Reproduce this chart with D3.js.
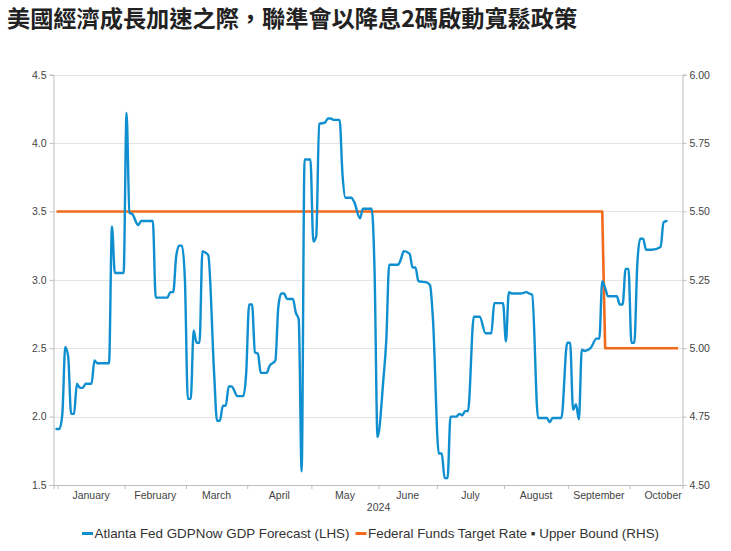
<!DOCTYPE html>
<html>
<head>
<meta charset="utf-8">
<script src="https://cdn.jsdelivr.net/npm/d3@7"></script>
<style>
  html, body { margin: 0; padding: 0; background: #fff; }
  svg { display: block; }
</style>
</head>
<body>
<svg id="chart" width="731" height="551"></svg>
<script>
// ---------------- DATA ----------------
const titleText = "美國經濟成長加速之際，聯準會以降息2碼啟動寬鬆政策";
const months = ["January","February","March","April","May","June","July","August","September","October"];
const monthStarts = ["2024-01-01","2024-02-01","2024-03-01","2024-04-01","2024-05-01","2024-06-01","2024-07-01","2024-08-01","2024-09-01","2024-10-01","2024-11-01"];
const yearLabel = "2024";
const leftTicks = [1.5, 2.0, 2.5, 3.0, 3.5, 4.0, 4.5];
const rightTicks = [4.50, 4.75, 5.00, 5.25, 5.50, 5.75, 6.00];

// Atlanta Fed GDPNow GDP Forecast (LHS), %
const gdpDates = [
  "2024-01-01","2024-01-02","2024-01-03","2024-01-04","2024-01-05","2024-01-08","2024-01-09","2024-01-10","2024-01-11","2024-01-12",
  "2024-01-15","2024-01-17","2024-01-18","2024-01-19","2024-01-25","2024-01-26","2024-01-29","2024-02-01","2024-02-02","2024-02-05",
  "2024-02-06","2024-02-08","2024-02-09","2024-02-15","2024-02-16","2024-02-22","2024-02-23","2024-02-26","2024-02-27","2024-02-28",
  "2024-02-29","2024-03-01","2024-03-04","2024-03-05","2024-03-06","2024-03-07","2024-03-08","2024-03-11","2024-03-12","2024-03-13",
  "2024-03-15","2024-03-18","2024-03-19","2024-03-20","2024-03-21","2024-03-22","2024-03-25","2024-03-27","2024-03-29","2024-04-01",
  "2024-04-02","2024-04-03","2024-04-04","2024-04-05","2024-04-08","2024-04-10","2024-04-11","2024-04-15","2024-04-16","2024-04-17",
  "2024-04-18","2024-04-19","2024-04-23","2024-04-24","2024-04-25","2024-04-26","2024-04-29","2024-05-01","2024-05-02","2024-05-03",
  "2024-05-06","2024-05-08","2024-05-09","2024-05-10","2024-05-13","2024-05-15","2024-05-16","2024-05-17","2024-05-21","2024-05-22",
  "2024-05-24","2024-05-27","2024-05-30","2024-05-31","2024-06-03","2024-06-05","2024-06-06","2024-06-07","2024-06-12","2024-06-13",
  "2024-06-14","2024-06-18","2024-06-19","2024-06-20","2024-06-21","2024-06-26","2024-06-27","2024-06-28","2024-07-02","2024-07-03",
  "2024-07-04","2024-07-05","2024-07-08","2024-07-10","2024-07-11","2024-07-12","2024-07-15","2024-07-16","2024-07-18","2024-07-22",
  "2024-07-24","2024-07-26","2024-07-29","2024-08-01","2024-08-02","2024-08-05","2024-08-06","2024-08-09","2024-08-13","2024-08-14",
  "2024-08-15","2024-08-19","2024-08-22","2024-08-23","2024-08-26","2024-08-29","2024-09-02","2024-09-03","2024-09-04","2024-09-05",
  "2024-09-06","2024-09-09","2024-09-10","2024-09-12","2024-09-16","2024-09-17","2024-09-18","2024-09-19","2024-09-20","2024-09-25",
  "2024-09-26","2024-09-27","2024-09-30","2024-10-01","2024-10-02","2024-10-03","2024-10-04","2024-10-07","2024-10-08","2024-10-09",
  "2024-10-11","2024-10-16","2024-10-17","2024-10-18"
];
const gdpValues = [
  1.91,1.91,2.02,2.51,2.44,2.02,2.02,2.24,2.21,2.21,
  2.24,2.24,2.41,2.39,2.39,3.39,3.05,3.05,4.22,3.49,
  3.48,3.40,3.43,3.43,2.87,2.87,2.91,2.91,3.17,3.25,
  3.25,3.00,2.13,2.13,2.63,2.54,2.54,3.21,3.20,3.18,
  2.32,1.97,1.97,2.08,2.08,2.22,2.22,2.15,2.15,2.32,
  2.82,2.82,2.47,2.46,2.32,2.32,2.37,2.41,2.80,2.90,
  2.90,2.86,2.86,2.76,2.71,1.60,3.88,3.88,3.28,3.32,
  4.14,4.15,4.18,4.18,4.17,4.17,3.77,3.60,3.60,3.57,
  3.45,3.52,3.52,3.05,1.85,2.27,2.56,3.11,3.11,3.15,
  3.21,3.19,3.09,3.09,2.99,2.98,2.96,2.71,1.73,1.73,
  1.55,1.55,2.00,2.00,2.02,2.01,2.04,2.04,2.73,2.73,
  2.61,2.61,2.83,2.83,2.55,2.91,2.90,2.90,2.91,2.90,
  2.89,1.99,1.99,1.96,1.99,1.99,2.54,2.54,2.05,2.09,
  1.98,2.49,2.48,2.50,2.57,2.57,2.99,2.94,2.88,2.88,
  2.82,2.82,3.08,3.08,2.54,2.54,3.11,3.30,3.30,3.22,
  3.22,3.24,3.42,3.43
];

// Federal Funds Target Rate - Upper Bound (RHS), %
const rateDates = ["2024-01-01","2024-09-18","2024-09-19","2024-10-24"];
const rateValues = [5.50, 5.50, 5.00, 5.00];

const legendLabels = ["Atlanta Fed GDPNow GDP Forecast (LHS)", "Federal Funds Target Rate ▪ Upper Bound (RHS)"];
const colors = ["#0f8fcf", "#f26a1b"];

// ---------------- HELPERS ----------------
const parse = d3.utcParse("%Y-%m-%d");
const origin = Date.UTC(2024, 0, 1); // Monday
function weekdayIndex(s) {
  const days = Math.round((parse(s) - origin) / 864e5);
  const w = Math.floor(days / 7), r = days - w * 7;
  return w * 5 + Math.min(r, 5);
}

// ---------------- CHART ----------------
const svg = d3.select("#chart");
const plotLeft = 53.5, plotRight = 682.5, plotTop = 74.7, plotBottom = 485;
const catOffset = 0.35;

const x = d3.scaleLinear().domain([-1.03, 214.5]).range([plotLeft, plotRight]);
const yL = d3.scaleLinear().domain([1.5, 4.5]).range([plotBottom, plotTop]);
const yR = d3.scaleLinear().domain([4.5, 6.0]).range([plotBottom, plotTop]);

const font = "'Liberation Sans', Arial, sans-serif";

// Title
svg.append("text")
  .attr("x", 7).attr("y", 27)
  .attr("font-family", "'Noto Sans CJK TC', 'Noto Sans CJK SC', sans-serif")
  .attr("font-weight", 700)
  .attr("font-size", 23.2)
  .attr("fill", "#222")
  .text(titleText);

// Gridlines
svg.append("g").selectAll("line").data(leftTicks.slice(1)).join("line")
  .attr("x1", plotLeft).attr("x2", plotRight)
  .attr("y1", d => Math.round(yL(d)) + 0.5).attr("y2", d => Math.round(yL(d)) + 0.5)
  .attr("stroke", "#e4e4e4").attr("stroke-width", 1);

// Left axis
const axL = svg.append("g").attr("transform", `translate(${plotLeft},0)`)
  .call(d3.axisLeft(yL).tickValues(leftTicks).tickFormat(d3.format(".1f")).tickSizeOuter(0).tickSize(4).tickPadding(3));
// Right axis
const axR = svg.append("g").attr("transform", `translate(${plotRight},0)`)
  .call(d3.axisRight(yR).tickValues(rightTicks).tickFormat(d3.format(".2f")).tickSizeOuter(0).tickSize(4).tickPadding(3));
// Bottom axis
const bounds = monthStarts.map(weekdayIndex);
const axB = svg.append("g").attr("transform", `translate(0,${plotBottom})`)
  .call(d3.axisBottom(x).tickValues(bounds.slice(0, 10).map(b => b + catOffset)).tickFormat("").tickSizeOuter(0).tickSize(4));

[axL, axR, axB].forEach(g => {
  g.selectAll(".domain").attr("stroke", "#bdbdbd");
  g.selectAll(".tick line").attr("stroke", "#bdbdbd");
  g.selectAll(".tick text").attr("fill", "#444").attr("font-family", font).attr("font-size", 10.5);
});

// Month labels
svg.append("g").selectAll("text").data(months).join("text")
  .attr("x", (d, i) => x((bounds[i] + bounds[i + 1]) / 2 + catOffset))
  .attr("y", 499)
  .attr("text-anchor", "middle")
  .attr("font-family", font).attr("font-size", 10.5).attr("fill", "#444")
  .text(d => d);
svg.append("text")
  .attr("x", x(bounds[5] + catOffset)).attr("y", 511)
  .attr("text-anchor", "middle")
  .attr("font-family", font).attr("font-size", 10.5).attr("fill", "#444")
  .text(yearLabel);

// Lines
const gdpData = gdpDates.map((d, i) => ({ i: weekdayIndex(d), v: gdpValues[i] }));
const rateData = rateDates.map((d, i) => ({ i: weekdayIndex(d), v: rateValues[i] }));

svg.append("path").datum(rateData)
  .attr("d", d3.line().x(d => x(d.i)).y(d => yR(d.v)))
  .attr("fill", "none").attr("stroke", colors[1]).attr("stroke-width", 2.6)
  .attr("stroke-linejoin", "round").attr("stroke-linecap", "butt");

svg.append("path").datum(gdpData)
  .attr("d", d3.line().curve(d3.curveMonotoneX).x(d => x(d.i)).y(d => yL(d.v)))
  .attr("fill", "none").attr("stroke", colors[0]).attr("stroke-width", 2.4)
  .attr("stroke-linejoin", "round").attr("stroke-linecap", "round");

// Legend
const legend = svg.append("g");
let lx = 82;
legendLabels.forEach((lab, k) => {
  legend.append("line")
    .attr("x1", lx).attr("x2", lx + 11).attr("y1", 533.5).attr("y2", 533.5)
    .attr("stroke", colors[k]).attr("stroke-width", 3);
  const t = legend.append("text")
    .attr("x", lx + 12.5).attr("y", 538)
    .attr("font-family", font).attr("font-size", 13.4).attr("fill", "#333")
    .text(lab);
  lx = lx + 12.5 + t.node().getComputedTextLength() + 6;
});
</script>
</body>
</html>
